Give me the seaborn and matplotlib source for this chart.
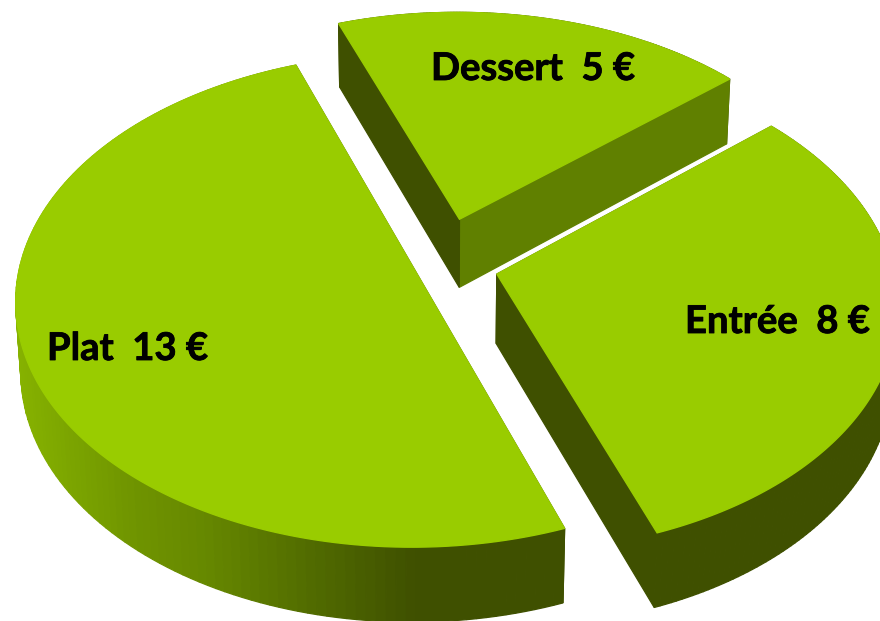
import numpy as np
import matplotlib
matplotlib.use("Agg")
import matplotlib.pyplot as plt
import matplotlib.patheffects as pe
from matplotlib.colors import to_rgb
import seaborn as sns

# Data
categories = ["Dessert", "Entrée", "Plat"]
prices = [5, 8, 13]
labels = ["Dessert  5 €", "Entrée  8 €", "Plat  13 €"]

# Style / layout
explode = [0.20, 0.148, 0.067]
TOP = "#99CC00"
DARK = "#3F5000"
MID = "#608000"
label_pos = [(431, 80), (685, 333), (47, 360)]
plat_x = [17, 130, 200, 300, 410, 563]
plat_c = ["#86B200", "#6F9400", "#668800", "#526D00", "#3F5000", "#3F5000"]

CX, CY, A, B, K, H, M = 440, 265, 395, 242, 0.12, 70, 0.012


def project(x, y, z=0.0):
    w = 1 + K * y + M * z
    return CX + A * x / w, CY + (-B * y + H * z) / w


sns.set_theme(style="white")
plt.rcParams["font.family"] = ["Lato", "DejaVu Sans"]
fig = plt.figure(figsize=(8.8, 6.21), dpi=100, facecolor="white")
ax = fig.add_axes([0, 0, 1, 1])
wedges, _ = ax.pie(prices, startangle=110, counterclock=False, explode=explode, radius=1)
geom = [(w.center, w.r, w.theta1, w.theta2) for w in wedges]
for w in wedges:
    w.remove()
ax.set_aspect("auto")
ax.set_xlim(0, 880)
ax.set_ylim(621, 0)
ax.axis("off")


def arc(center, r, t1, t2, n):
    t = np.radians(np.linspace(t1, t2, n))
    return center[0] + r * np.cos(t), center[1] + r * np.sin(t)


def quad(x0, y0, x1, y1, color, zo):
    p = [project(x0, y0), project(x1, y1), project(x1, y1, 1), project(x0, y0, 1)]
    ax.fill(*zip(*p), color=color, lw=0.9, zorder=zo)


plat_rgb = np.array([to_rgb(c) for c in plat_c])


def side_colour(i, X):
    if i == 2:
        return tuple(np.interp(X, plat_x, plat_rgb[:, k]) for k in range(3))
    return DARK


for zo, i in enumerate(range(3), start=1):
    center, r, t1, t2 = geom[i]
    xs, ys = arc(center, r, t1, t2, 140)
    # outer wall
    for j in range(len(xs) - 1):
        Xm = project(xs[j], ys[j])[0]
        quad(xs[j], ys[j], xs[j + 1], ys[j + 1], side_colour(i, Xm), zo)
    # cut faces
    quad(center[0], center[1], xs[0], ys[0], MID if i == 0 else DARK, zo)
    quad(center[0], center[1], xs[-1], ys[-1], DARK, zo)
    # top face
    px, py = project(np.r_[center[0], xs], np.r_[center[1], ys])
    ax.fill(px, py, color=TOP, lw=1.0, zorder=zo)

for lab, (lx, ly) in zip(labels, label_pos):
    ax.text(lx, ly, lab, fontsize=27.5, fontweight="bold", color="black",
            ha="left", va="baseline", zorder=10,
            path_effects=[pe.withStroke(linewidth=0.6, foreground="black")])

fig.savefig("out.png", dpi=100, facecolor="white")
